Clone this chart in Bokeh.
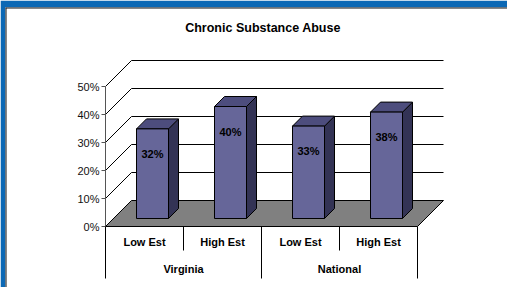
import numpy as np
from bokeh.plotting import figure
from bokeh.models import Range1d, ColumnDataSource
from bokeh.core.properties import value
from bokeh.embed import file_html
from bokeh.resources import INLINE

# ---------------- data ----------------
title_text = "Chronic Substance Abuse"
groups = ["Virginia", "National"]
estimates = ["Low Est", "High Est"]
values = [32, 40, 33, 38]
value_labels = ["32%", "40%", "33%", "38%"]
y_ticks = [0, 10, 20, 30, 40, 50]
y_tick_labels = ["0%", "10%", "20%", "30%", "40%", "50%"]

# ---------------- layout constants (pixels) ----------------
W, H = 507, 287
CAT_PX = 78.0          # width of one category on the front plane
PCT_PX = 2.8           # pixels per percent
ORIGIN_X, ORIGIN_Y = 105.0, 226.0   # pixel position of (x=0, 0%, front)
DEPTH_PX = 26.0        # depth offset of the back wall (px right / up)
BORDER_TOP, BORDER_LEFT = 7, 5
BAR_HALF_PX = 16.0
BAR_Z1, BAR_Z2 = 8.0 / 26.0, 18.0 / 26.0
FONT = "Liberation Sans"

DX = DEPTH_PX / CAT_PX
DY = DEPTH_PX / PCT_PX


def proj(x, y, z):
    return x + z * DX, y + z * DY


n = len(values)
cats = [e for g in groups for e in estimates]

x_start = (BORDER_LEFT - ORIGIN_X) / CAT_PX
x_end = (W - ORIGIN_X) / CAT_PX
y_start = (ORIGIN_Y - H) / PCT_PX
y_end = (ORIGIN_Y - BORDER_TOP) / PCT_PX

p = figure(width=W, height=H,
           x_range=Range1d(x_start, x_end), y_range=Range1d(y_start, y_end),
           output_backend="svg", toolbar_location=None,
           x_axis_location=None, y_axis_location=None,
           min_border_top=BORDER_TOP, min_border_left=BORDER_LEFT,
           min_border_right=0, min_border_bottom=0,
           border_fill_color="#0B68B5", background_fill_color="white",
           outline_line_color=None)
p.grid.visible = False

# dark edge of the blue frame
p.segment(x0=[x_start, x_start], y0=[y_end, y_start], x1=[x_end, x_start], y1=[y_end, y_end],
          line_color="#111111", line_width=2)

# ---------------- floor ----------------
fx, fy = zip(*[proj(0, 0, 0), proj(n, 0, 0), proj(n, 0, 1), proj(0, 0, 1)])
p.patch(list(fx), list(fy), fill_color="#808080", line_color="black", line_width=1)

# ---------------- back wall grid + side wall diagonals ----------------
gx0, gy0, gx1, gy1 = [], [], [], []
for t in y_ticks[1:]:
    a = proj(0, t, 1)
    b = proj(n, t, 1)
    gx0.append(a[0]); gy0.append(a[1]); gx1.append(b[0]); gy1.append(b[1])
    c = proj(0, t, 0)
    gx0.append(c[0]); gy0.append(c[1]); gx1.append(a[0]); gy1.append(a[1])
p.segment(gx0, gy0, gx1, gy1, line_color="black", line_width=1)

# ---------------- y axis ----------------
p.segment([0], [y_ticks[0]], [0], [y_ticks[-1]], line_color="#555555", line_width=1)
tick_len = 4.0 / CAT_PX
p.segment([-tick_len] * len(y_ticks), y_ticks, [0] * len(y_ticks), y_ticks,
          line_color="#555555", line_width=1)
p.text(x=[-6.0 / CAT_PX] * len(y_ticks), y=y_ticks, text=y_tick_labels,
       text_align="right", text_baseline="middle", text_font=value(FONT),
       text_font_size="11px", text_color="#111111")

# ---------------- bars ----------------
hw = BAR_HALF_PX / CAT_PX
front_xs, front_ys, top_xs, top_ys, side_xs, side_ys = [], [], [], [], [], []
lab_x, lab_y = [], []
for i, v in enumerate(values):
    xc = i + 0.5
    xl, xr = xc - hw, xc + hw
    pts = [proj(xl, 0, BAR_Z1), proj(xr, 0, BAR_Z1), proj(xr, v, BAR_Z1), proj(xl, v, BAR_Z1)]
    front_xs.append([q[0] for q in pts]); front_ys.append([q[1] for q in pts])
    pts = [proj(xl, v, BAR_Z1), proj(xr, v, BAR_Z1), proj(xr, v, BAR_Z2), proj(xl, v, BAR_Z2)]
    top_xs.append([q[0] for q in pts]); top_ys.append([q[1] for q in pts])
    pts = [proj(xr, 0, BAR_Z1), proj(xr, v, BAR_Z1), proj(xr, v, BAR_Z2), proj(xr, 0, BAR_Z2)]
    side_xs.append([q[0] for q in pts]); side_ys.append([q[1] for q in pts])
    cx, cy = proj(xc, v, BAR_Z1)
    lab_x.append(cx); lab_y.append(cy - 25.0 / PCT_PX)

p.patches(side_xs, side_ys, fill_color="#333355", line_color="black", line_width=1)
p.patches(top_xs, top_ys, fill_color="#4D4D7D", line_color="black", line_width=1)
p.patches(front_xs, front_ys, fill_color="#666699", line_color="black", line_width=1)
p.text(x=lab_x, y=lab_y, text=value_labels, text_align="center", text_baseline="middle",
       text_font=value(FONT), text_font_style="bold", text_font_size="11px", text_color="black")

# ---------------- category axis table ----------------
sep_x, sep_y1 = [], []
for k in range(n + 1):
    sep_x.append(k)
    sep_y1.append(-52.0 / PCT_PX if k % len(estimates) == 0 else -24.0 / PCT_PX)
p.segment(sep_x, [0] * len(sep_x), sep_x, sep_y1, line_color="black", line_width=1)

p.text(x=[i + 0.5 for i in range(n)], y=[-15.0 / PCT_PX] * n, text=cats,
       text_align="center", text_baseline="middle", text_font=value(FONT),
       text_font_style="bold", text_font_size="11px", text_color="black")
gcent = [len(estimates) * g + len(estimates) / 2 for g in range(len(groups))]
p.text(x=gcent, y=[-42.0 / PCT_PX] * len(groups), text=groups,
       text_align="center", text_baseline="middle", text_font=value(FONT),
       text_font_style="bold", text_font_size="11px", text_color="black")

# ---------------- title ----------------
p.text(x=[(262.5 - ORIGIN_X) / CAT_PX], y=[(ORIGIN_Y - 27.5) / PCT_PX], text=[title_text],
       text_align="center", text_baseline="middle", text_font=value(FONT),
       text_font_style="bold", text_font_size="12.5px", text_color="black")

open("out.html", "w").write(file_html(p, INLINE))
